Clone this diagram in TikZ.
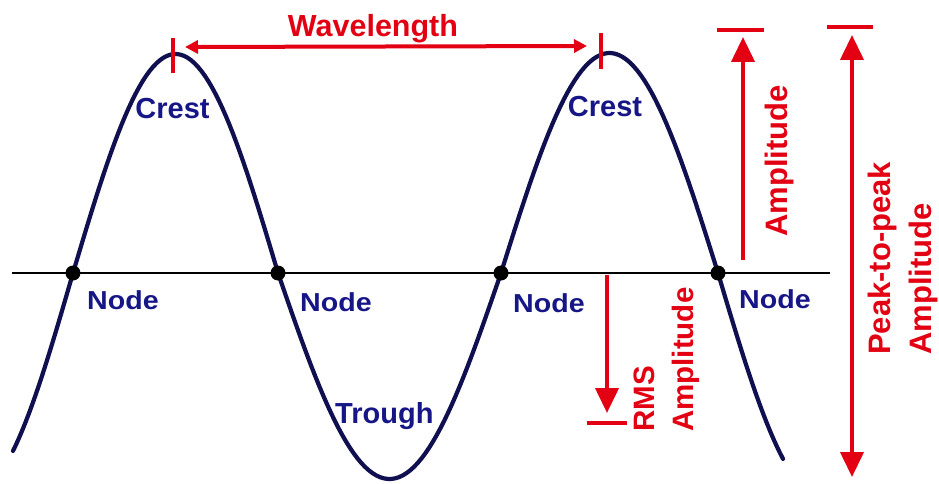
\documentclass[tikz,border=0pt]{standalone}
\usepackage{fontspec}
\setmainfont{Liberation Sans}
\newfontfamily\nodefont{Liberation Sans}[FakeStretch=1.1]
\usetikzlibrary{arrows.meta}
\definecolor{wred}{RGB}{226,0,18}
\definecolor{wblue}{RGB}{22,22,135}
\definecolor{wnavy}{RGB}{16,16,80}
\tikzset{
  bigtip/.tip={Triangle[length=25pt,width=23pt]},
  smalltip/.tip={Triangle[length=13pt,width=13pt]},
}
\begin{document}
\begin{tikzpicture}[x=1pt,y=-1pt,
  wave/.style={draw=wnavy,line width=4.2pt,line join=round,line cap=round},
  axisline/.style={draw=black,line width=2.3pt},
  dotnode/.style={circle,fill=black,inner sep=0pt,minimum size=15pt},
  redline/.style={draw=wred,line width=4pt},
  bluelabel/.style={text=wblue,font=\bfseries\fontsize{29}{35}\selectfont,inner sep=0pt},
  nodelabel/.style={text=wblue,font=\nodefont\bfseries\fontsize{26}{30}\selectfont,inner sep=0pt,anchor=base west},
  redlabel/.style={text=wred,font=\bfseries\fontsize{31}{41}\selectfont,inner sep=0pt},
]
\useasboundingbox (0,0) rectangle (939,484);
\fill[white] (0,0) rectangle (939,484);

% axis
\coordinate (axL) at (12,273);
\coordinate (axR) at (830,273);
\draw[axisline] (axL) -- (axR);

% wave
\draw[wave] plot[domain=13:73,samples=20] (\x,{273+220*sin(((73-\x)/200)*180)})
 -- plot[domain=73:278,samples=60] (\x,{273-219*sin(((\x-73)/205)*180)})
 -- plot[domain=278:501,samples=60] (\x,{273+206*sin(((\x-278)/223)*180)})
 -- plot[domain=501:718,samples=60] (\x,{273-220*sin(((\x-501)/217)*180)})
 -- plot[domain=718:783,samples=20] (\x,{273+225*sin(((\x-718)/210)*180)});

% node dots
\node[dotnode] (n1) at (73,273) {};
\node[dotnode] (n2) at (278,273) {};
\node[dotnode] (n3) at (501,273) {};
\node[dotnode] (n4) at (718,273) {};

% crest ticks
\coordinate (t1a) at (173,38);
\coordinate (t1b) at (173,73);
\coordinate (t2a) at (601,33);
\coordinate (t2b) at (601,69);
\draw[redline] (t1a) -- (t1b);
\draw[redline] (t2a) -- (t2b);

% wavelength arrow
\coordinate (wl) at (185,47);
\coordinate (wr) at (587,46);
\draw[redline,smalltip-smalltip] (wl) -- (wr);

% amplitude arrow
\coordinate (a1s) at (743,260);
\coordinate (a1e) at (743,37);
\draw[redline,-bigtip] (a1s) -- (a1e);
\coordinate (b1l) at (717,30);
\coordinate (b1r) at (764,30);
\draw[redline] (b1l) -- (b1r);

% peak-to-peak arrow
\coordinate (pbot) at (852,477);
\coordinate (ptop) at (852,35);
\draw[redline,bigtip-bigtip] (pbot) -- (ptop);
\coordinate (b2l) at (827,27);
\coordinate (b2r) at (873,27);
\draw[redline] (b2l) -- (b2r);

% RMS arrow
\coordinate (rs) at (607,275);
\coordinate (re) at (607,413);
\draw[redline,-bigtip] (rs) -- (re);
\coordinate (b3l) at (587,423);
\coordinate (b3r) at (627,423);
\draw[redline] (b3l) -- (b3r);

% blue labels
\node[bluelabel,anchor=base] (crest1) at (172.5,119) {Crest};
\node[bluelabel,anchor=base] (crest2) at (605,117) {Crest};
\node[bluelabel,anchor=base west] (trough) at (335,423) {Trough};
\node[nodelabel] (lab1) at (87,309) {Node};
\node[nodelabel] (lab2) at (300,311) {Node};
\node[nodelabel] (lab3) at (513,312) {Node};
\node[nodelabel] (lab4) at (739,308) {Node};

% red labels
\node[redlabel,font=\bfseries\fontsize{30.5}{36}\selectfont,anchor=base] (wavelab) at (373,37) {Wavelength};
\node[redlabel,rotate=90,anchor=base west] (amplab) at (787,237) {Amplitude};
\node[redlabel,rotate=90,anchor=south west,align=left,font=\bfseries\fontsize{29.5}{39}\selectfont] (rmslab) at (700,432) {RMS\\Amplitude};
\node[redlabel,rotate=90,anchor=south west,align=left] (p2plab) at (938,355) {Peak-to-peak\\Amplitude};
\end{tikzpicture}
\end{document}
